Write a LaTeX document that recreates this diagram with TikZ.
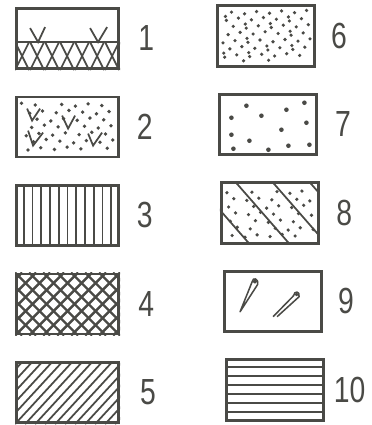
\documentclass[tikz,border=0pt]{standalone}
\usepackage{fontspec}
\setmainfont{Liberation Sans}[FakeStretch=0.78]
\usetikzlibrary{positioning, calc}
\definecolor{tinte}{HTML}{4A4A46}

\begin{document}
\begin{tikzpicture}[x=0.03cm, y=-0.03cm,
      feld/.style={draw=tinte, line width=2.4pt, inner sep=0pt,
        minimum width=3.06cm, minimum height=1.8cm},
      rfeld/.style={feld, minimum width=2.91cm, minimum height=1.82cm},
      strich/.style={tinte, line width=1.5pt},
      gitter/.style={tinte, line width=2pt},
      punkt/.style={fill=tinte},
      feder/.style={tinte, line width=1.3pt, line join=round},
      zahl/.style={text=tinte, inner sep=0pt, font=\fontsize{31}{31}\selectfont}]
    \useasboundingbox (0,0) rectangle (372,425);
    \node[feld] (b1) at (67.5,38.5) {};
    \node[feld, below=0.77cm of b1] (b2) {};
    \node[feld, below=0.77cm of b2] (b3) {};
    \node[feld, below=0.77cm of b3] (b4) {};
    \node[feld, below=0.77cm of b4] (b5) {};
    \node[rfeld] (b6) at (266,36) {};
    \node[rfeld, below=0.75cm of b6, xshift=0.07cm] (b7) {};
    \node[rfeld, below=0.75cm of b7, xshift=0.04cm] (b8) {};
    \node[rfeld, below=0.75cm of b8, xshift=0.1cm] (b9) {};
    \node[rfeld, below=0.75cm of b9, xshift=0.07cm] (b10) {};
    \node[zahl, right=0.55cm of b1] (z1) {1};
    \node[zahl, right=0.5cm of b2] (z2) {2};
    \node[zahl, right=0.5cm of b3] (z3) {3};
    \node[zahl, right=0.55cm of b4] (z4) {4};
    \node[zahl, right=0.6cm of b5] (z5) {5};
    \node[zahl, right=0.45cm of b6] (z6) {6};
    \node[zahl, right=0.5cm of b7] (z7) {7};
    \node[zahl, right=0.5cm of b8] (z8) {8};
    \node[zahl, right=0.45cm of b9] (z9) {9};
    \node[zahl, right=0.25cm of b10] (z10) {10};
    \begin{scope}[shift={(b1.north west)}]
      \draw[gitter] (0,35) -- (105,35);
      \draw[strich] (15,21) -- (23,35) -- (30,20);
      \draw[strich] (75,21) -- (83,35) -- (92,20);
      \clip (0,35) rectangle (105,63);
      \foreach \s in {-15,0,...,105} {
        \draw[strich] (\s,35) -- (\s+14,63);
        \draw[strich] (\s+14,35) -- (\s,63);
      }
    \end{scope}
    \begin{scope}[shift={(b2.north west)}]
      \draw[strich] (12,13) -- (17,25) -- (25,13);
      \draw[strich] (47,20) -- (53,33) -- (60,20);
      \draw[strich] (13,35) -- (18,50) -- (28,37);
      \draw[strich] (73,38) -- (78,50) -- (87,37);
      \foreach \k in {1,...,45} {
        \pgfmathsetmacro\px{6+93*mod(0.3+\k*0.7548777,1)}
        \pgfmathsetmacro\py{6+51*mod(0.1+\k*0.5698403,1)}
        \fill[punkt] (\px,\py) circle (1.9);
      }
    \end{scope}
    \begin{scope}[shift={(b3.north west)}]
      \foreach \k in {1,...,11}
        \draw[strich] (\k*8.75,0) -- (\k*8.75,63);
    \end{scope}
    \begin{scope}[shift={(b4.north west)}]
      \clip (0,0) rectangle (105,63);
      \foreach \s in {-70,-56,...,105} {
        \draw[gitter] (\s,0) -- (\s+63,63);
        \draw[gitter] (\s,63) -- (\s+63,0);
      }
    \end{scope}
    \begin{scope}[shift={(b5.north west)}]
      \clip (0,0) rectangle (105,63);
      \foreach \s in {-60,-50,...,100}
        \draw[strich] (\s,63) -- (\s+58,0);
    \end{scope}
    \begin{scope}[shift={(b6.north west)}]
      \foreach \k in {1,...,62} {
        \pgfmathsetmacro\px{6+88*mod(0.5+\k*0.7548777,1)}
        \pgfmathsetmacro\py{6+51*mod(0.5+\k*0.5698403,1)}
        \fill[punkt] (\px,\py) circle (1.8);
      }
    \end{scope}
    \begin{scope}[shift={(b7.north west)}]
      \foreach \p in {(28,13),(68,17),(86,10),(13,25),(43,23),(88,30),(63,37),
                      (13,42),(31,48),(15,56),(50,57),(70,53),(91,52)}
        \fill[punkt] \p circle (2.3);
    \end{scope}
    \begin{scope}[shift={(b8.north west)}]
      \foreach \k in {1,...,40} {
        \pgfmathsetmacro\px{6+88*mod(0.2+\k*0.7548777,1)}
        \pgfmathsetmacro\py{6+51*mod(0.7+\k*0.5698403,1)}
        \fill[punkt] (\px,\py) circle (1.8);
      }
      \clip (0,0) rectangle (100,63);
      \foreach \s in {-25,15,52,89}
        \draw[strich] (\s,0) -- (\s+55,63);
    \end{scope}
    \begin{scope}[shift={(b9.north west)}]
      \draw[feder] (17,42) -- (29,12.2) .. controls (29.5,7) and (36,8.5) .. (34.4,15) -- cycle;
      \draw[feder] (31.8,11.8) circle (1.4);
      \draw[feder] (50,47) -- (70.5,26) .. controls (71,21) and (77,21) .. (76,27) -- (54,47);
      \draw[feder] (73.5,24.8) circle (1);
    \end{scope}
    \begin{scope}[shift={(b10.north west)}]
      \foreach \y in {9,18,...,54}
        \draw[strich, line width=1.6pt] (0,\y) -- (100,\y);
    \end{scope}
\end{tikzpicture}
\end{document}
